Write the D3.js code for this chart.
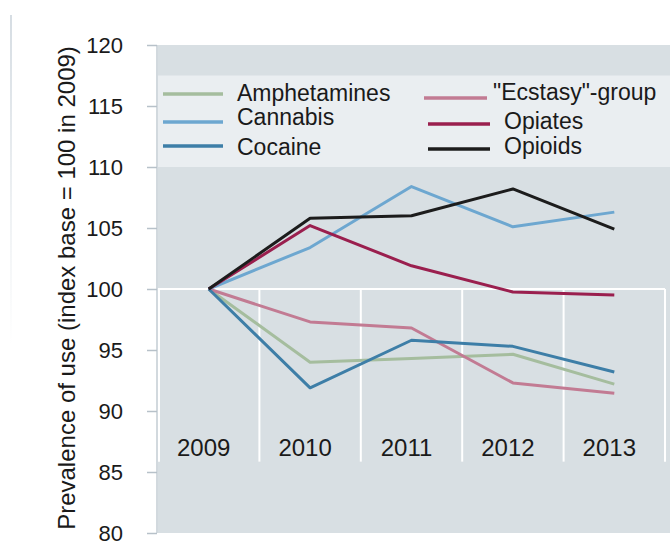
<!DOCTYPE html>
<html>
<head>
<meta charset="utf-8">
<script src="https://cdn.jsdelivr.net/npm/d3@7"></script>
<style>
  html, body { margin: 0; padding: 0; background: #ffffff; }
  svg { display: block; }
  text { font-family: "Liberation Sans", Arial, sans-serif; fill: #1a1a1a; }
</style>
</head>
<body>
<svg id="chart" width="670" height="545"></svg>
<script>
// ---- data ----
const years = ["2009", "2010", "2011", "2012", "2013"];
const seriesNames = ["Amphetamines", "Cannabis", "Cocaine", "\"Ecstasy\"-group", "Opiates", "Opioids"];
const amphetamines = [100, 94.0, 94.3, 94.65, 92.2];
const cannabis     = [100, 103.4, 108.4, 105.1, 106.3];
const cocaine      = [100, 91.9, 95.8, 95.3, 93.2];
const ecstasy      = [100, 97.3, 96.8, 92.3, 91.45];
const opiates      = [100, 105.2, 101.9, 99.75, 99.5];
const opioids      = [100, 105.8, 106.0, 108.2, 104.9];
const yTicks = [80, 85, 90, 95, 100, 105, 110, 115, 120];
const yTitle = "Prevalence of use (index base = 100 in 2009)";

const seriesValues = [amphetamines, cannabis, cocaine, ecstasy, opiates, opioids];
const seriesColors = ["#a5bd9e", "#6da7d0", "#3d7ea7", "#c27b93", "#9a1f4e", "#1c1c1c"];
const drawOrder = [0, 3, 1, 2, 4, 5];

// ---- layout ----
const svg = d3.select("#chart");
const plotLeft = 158, plotRight = 670, gridRight = 665;
const x = d3.scaleBand().domain(years).range([plotLeft, gridRight]).padding(0);
const y = d3.scaleLinear().domain([80, 120]).range([533, 45]);

// faint left border line
const defs = svg.append("defs");
const grad = defs.append("linearGradient").attr("id", "fade").attr("x1", 0).attr("y1", 0).attr("x2", 0).attr("y2", 1);
grad.append("stop").attr("offset", "0%").attr("stop-color", "#d6dde3").attr("stop-opacity", 1);
grad.append("stop").attr("offset", "100%").attr("stop-color", "#d6dde3").attr("stop-opacity", 0);
svg.append("rect").attr("x", 10).attr("y", 15).attr("width", 2).attr("height", 330).attr("fill", "url(#fade)");

// plot background
svg.append("rect")
  .attr("x", plotLeft).attr("y", y(120))
  .attr("width", plotRight - plotLeft).attr("height", y(80) - y(120))
  .attr("fill", "#d8dfe3");

// legend background band
svg.append("rect")
  .attr("x", plotLeft).attr("y", y(117.5))
  .attr("width", plotRight - plotLeft).attr("height", y(110) - y(117.5))
  .attr("fill", "#eaeef1");

// white category grid (lower part)
const gridBottom = y(85.85);
svg.append("line")
  .attr("x1", plotLeft).attr("x2", gridRight)
  .attr("y1", y(100)).attr("y2", y(100))
  .attr("stroke", "#ffffff").attr("stroke-width", 2);
const bounds = years.map(d => x(d)).concat([x(years[years.length - 1]) + x.bandwidth()]);
svg.selectAll("line.vgrid").data(bounds).enter().append("line")
  .attr("class", "vgrid")
  .attr("x1", d => d === plotLeft ? d + 1 : d).attr("x2", d => d === plotLeft ? d + 1 : d)
  .attr("y1", y(100)).attr("y2", gridBottom)
  .attr("stroke", "#ffffff").attr("stroke-width", 2);

// category labels
svg.selectAll("text.cat").data(years).enter().append("text")
  .attr("class", "cat")
  .attr("x", d => x(d) + x.bandwidth() / 2 - 5)
  .attr("y", 456)
  .attr("text-anchor", "middle")
  .attr("font-size", 24)
  .text(d => d);

// y axis
const yAxis = d3.axisLeft(y).tickValues(yTicks).tickSize(10).tickPadding(24).tickFormat(d3.format("d"));
const gAxis = svg.append("g").attr("transform", `translate(157,0)`).call(yAxis);
gAxis.select(".domain").attr("stroke", "#c3ccd3").attr("stroke-width", 1.5).attr("d", `M0,${y(120)}V${y(80)}`);
gAxis.selectAll(".tick line").attr("stroke", "#b7c1c9").attr("stroke-width", 1.5);
gAxis.selectAll(".tick text")
  .attr("font-size", 22)
  .attr("font-family", "'Liberation Sans', Arial, sans-serif")
  .attr("fill", "#1a1a1a")
  .attr("dy", "0.32em");

// y title
svg.append("text")
  .attr("transform", `translate(75,${(y(120) + y(80)) / 2 - 1}) rotate(-90)`)
  .attr("text-anchor", "middle")
  .attr("font-size", 24)
  .text(yTitle);

// series lines
const line = d3.line()
  .x((d, i) => x(years[i]) + x.bandwidth() / 2)
  .y(d => y(d));
svg.selectAll("path.series").data(drawOrder).enter().append("path")
  .attr("class", "series")
  .attr("d", i => line(seriesValues[i]))
  .attr("fill", "none")
  .attr("stroke", i => seriesColors[i])
  .attr("stroke-width", 3)
  .attr("stroke-linejoin", "round");

// legend
const legendLayout = [
  { lx1: 163, lx2: 223, ly: 94,  tx: 237, ty: 101 },
  { lx1: 163, lx2: 223, ly: 122, tx: 237, ty: 125 },
  { lx1: 163, lx2: 223, ly: 146, tx: 237, ty: 155 },
  { lx1: 424, lx2: 487, ly: 98,  tx: 493, ty: 100 },
  { lx1: 428, lx2: 490, ly: 124, tx: 504, ty: 129 },
  { lx1: 428, lx2: 490, ly: 149, tx: 504, ty: 154 }
];
const lg = svg.append("g");
seriesNames.forEach((name, i) => {
  const L = legendLayout[i];
  lg.append("line")
    .attr("x1", L.lx1).attr("x2", L.lx2).attr("y1", L.ly).attr("y2", L.ly)
    .attr("stroke", seriesColors[i]).attr("stroke-width", 3.5);
  lg.append("text")
    .attr("x", L.tx).attr("y", L.ty)
    .attr("font-size", 23)
    .text(name);
});
</script>
</body>
</html>
